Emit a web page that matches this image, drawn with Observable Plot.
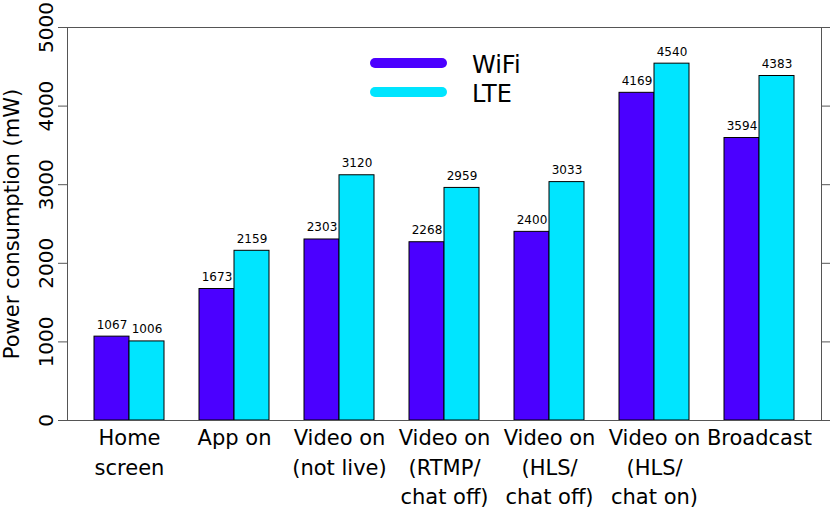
<!DOCTYPE html>
<html><head><meta charset="utf-8">
<script src="https://cdn.jsdelivr.net/npm/d3@7"></script>
<script src="https://cdn.jsdelivr.net/npm/@observablehq/plot@0.6"></script>
<style>body{margin:0;background:#fff} svg{display:block}</style>
</head><body><div id="chart"></div>
<script>
const categories = ["Home\nscreen", "App on", "Video on\n(not live)", "Video on\n(RTMP/\nchat off)", "Video on\n(HLS/\nchat off)", "Video on\n(HLS/\nchat on)", "Broadcast"];
const series = ["WiFi", "LTE"];
const wifi = [1067, 1673, 2303, 2268, 2400, 4169, 3594];
const lte = [1006, 2159, 3120, 2959, 3033, 4540, 4383];
const yTicks = [0, 1000, 2000, 3000, 4000, 5000];
const colors = ["#4B00FF", "#00E5FF"];
const yLabel = "Power consumption (mW)";

const rows = categories.map((c, i) => ({category: c, wifi: wifi[i], lte: lte[i]}));

const plot = Plot.plot({
  width: 830, height: 507,
  marginLeft: 67, marginRight: 9, marginTop: 27, marginBottom: 87,
  style: {fontFamily: "DejaVu Sans", background: "#fff", color: "#000"},
  x: {domain: categories, paddingInner: 1/3, paddingOuter: 0.257},
  y: {domain: [0, 5000]},
  marks: [
    Plot.barY(rows, {x: "category", y: "wifi", insetRight: 35, fill: colors[0], stroke: "#000", strokeWidth: 1}),
    Plot.barY(rows, {x: "category", y: "lte", insetLeft: 35, fill: colors[1], stroke: "#000", strokeWidth: 1}),
    Plot.text(rows, {x: "category", y: "wifi", text: d => String(d.wifi), dx: -17.5, dy: -8, lineAnchor: "bottom", fontSize: 12, fill: "#000"}),
    Plot.text(rows, {x: "category", y: "lte", text: d => String(d.lte), dx: 17.5, dy: -8, lineAnchor: "bottom", fontSize: 12, fill: "#000"}),
    Plot.frame({stroke: "#555"}),
    Plot.axisY({ticks: yTicks, tickSize: 9, tickRotate: -90, fontSize: 20, tickPadding: 6, stroke: "#555",
      tickFormat: d => String(d), label: null}),
    Plot.axisY({anchor: "right", ticks: yTicks, tickSize: 9, tickFormat: () => "", label: null, stroke: "#555"}),
    Plot.axisX({tickSize: 0, tickPadding: 4, fontSize: 21, lineHeight: 1.4, label: null}),
    Plot.text([yLabel], {frameAnchor: "left", text: d => d, rotate: -90, dx: -55, textAnchor: "middle", lineAnchor: "middle", fontSize: 21, fill: "#000"})
  ]
});
document.getElementById("chart").appendChild(plot);

// Legend inside the plot area
const svg = d3.select(plot);
const lg = svg.append("g").attr("font-family", "DejaVu Sans").attr("text-anchor", "start");
series.forEach((s, i) => {
  const y = 63 + i * 29;
  lg.append("line").attr("x1", 375).attr("x2", 442).attr("y1", y).attr("y2", y)
    .attr("stroke", colors[i]).attr("stroke-width", 10).attr("stroke-linecap", "round");
  lg.append("text").attr("x", 472).attr("y", y + 10).attr("font-size", 24).attr("fill", "#000").text(s);
});
</script>
</body></html>
